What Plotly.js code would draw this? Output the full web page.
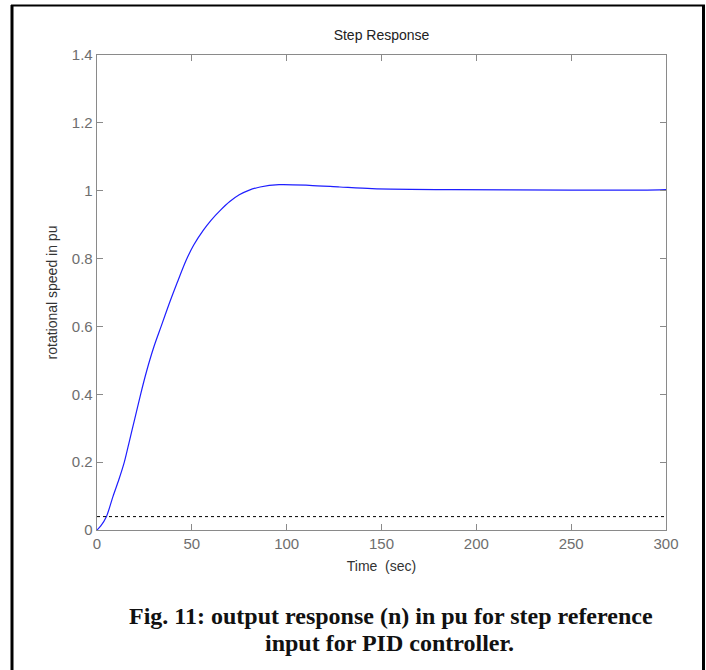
<!DOCTYPE html>
<html>
<head>
<meta charset="utf-8">
<script src="https://cdn.plot.ly/plotly-3.0.1.min.js"></script>
<style>html,body{margin:0;padding:0;background:#fff;}#chart{width:706px;height:670px;}</style>
</head>
<body>
<div id="chart"></div>
<script>
// Step response data
const timeSec = [0, 2, 5, 8.5, 11.5, 14.4, 17, 20, 23, 26, 30, 34, 38, 42, 47, 51, 56, 60, 65, 70, 75, 80, 86, 96, 112, 128, 145, 187, 250, 290, 300];
const speedPu = [0, 0.012, 0.04, 0.10, 0.148, 0.2, 0.26, 0.33, 0.4, 0.465, 0.54, 0.603, 0.666, 0.725, 0.795, 0.84, 0.883, 0.912, 0.942, 0.968, 0.988, 1.001, 1.011, 1.018, 1.016, 1.011, 1.006, 1.003, 1.002, 1.002, 1.003];
const settleX = [0, 300];
const settleY = [0.0395, 0.0395];
const xTicks = [0, 50, 100, 150, 200, 250, 300];
const yTicks = [0, 0.2, 0.4, 0.6, 0.8, 1, 1.2, 1.4];
const yTickText = ['0', '0.2', '0.4', '0.6', '0.8', '1', '1.2', '1.4'];
const chartTitle = 'Step Response';
const xTitle = 'Time&nbsp;&nbsp;(sec)';
const yTitle = 'rotational speed in pu';
const captionLine1 = 'Fig. 11: output response (n) in pu for step reference';
const captionLine2 = 'input for PID controller.';

// pixel layout helpers
const W = 706, H = 670, L = 97, R = 40, T = 55, B = 140;
const pw = W - L - R, ph = H - T - B;
const px = x => (x - L) / pw;
const py = y => (H - B - y) / ph;

const traces = [
  {x: timeSec, y: speedPu, type: 'scatter', mode: 'lines', line: {color: 'rgb(30,30,255)', width: 1.2, shape: 'spline', smoothing: 0.8}, hoverinfo: 'skip'},
  {x: settleX, y: settleY, type: 'scatter', mode: 'lines', line: {color: '#000', width: 1, dash: '3px,3px'}, hoverinfo: 'skip'}
];

const axisCommon = {
  showgrid: false, zeroline: false, showline: true, linecolor: '#8a8a8a', linewidth: 1.3,
  mirror: 'ticks', ticks: 'inside', ticklen: 6, tickcolor: '#8a8a8a', tickwidth: 1,
  tickfont: {family: 'Liberation Sans, Arial, sans-serif', size: 15, color: '#6e6e6e'}
};

const layout = {
  width: W, height: H,
  margin: {l: L, r: R, t: T, b: B},
  paper_bgcolor: '#fff', plot_bgcolor: '#fff',
  showlegend: false,
  title: {text: chartTitle, x: 0.5, xref: 'paper', y: 1 - 35 / H, yanchor: 'middle',
          font: {family: 'Liberation Sans, Arial, sans-serif', size: 14, color: '#222'}},
  xaxis: Object.assign({}, axisCommon, {range: [0, 300], tickvals: xTicks, ticktext: xTicks.map(String),
          title: {text: xTitle, standoff: 10, font: {family: 'Liberation Sans, Arial, sans-serif', size: 14, color: '#333'}}}),
  yaxis: Object.assign({}, axisCommon, {range: [0, 1.4], tickvals: yTicks, ticktext: yTickText,
          title: {text: yTitle, standoff: 11, font: {family: 'Liberation Sans, Arial, sans-serif', size: 14, color: '#333'}}}),
  shapes: [
    {type: 'line', xref: 'paper', yref: 'paper', x0: px(12), x1: px(12), y0: py(5), y1: py(672), line: {color: '#000', width: 3}},
    {type: 'line', xref: 'paper', yref: 'paper', x0: px(11), x1: px(705), y0: py(5.5), y1: py(5.5), line: {color: '#000', width: 2}},
    {type: 'line', xref: 'paper', yref: 'paper', x0: px(703.5), x1: px(703.5), y0: py(5), y1: py(672), line: {color: '#000', width: 3}}
  ],
  annotations: [
    {text: '<b>' + captionLine1 + '</b>', xref: 'paper', yref: 'paper', x: px(391), y: py(616), xanchor: 'center', yanchor: 'middle', showarrow: false,
     font: {family: 'Liberation Serif, serif', size: 24, color: '#111'}},
    {text: '<b>' + captionLine2 + '</b>', xref: 'paper', yref: 'paper', x: px(389), y: py(643), xanchor: 'center', yanchor: 'middle', showarrow: false,
     font: {family: 'Liberation Serif, serif', size: 24, color: '#111'}}
  ]
};

Plotly.newPlot('chart', traces, layout, {displayModeBar: false, staticPlot: true});
</script>
</body>
</html>
